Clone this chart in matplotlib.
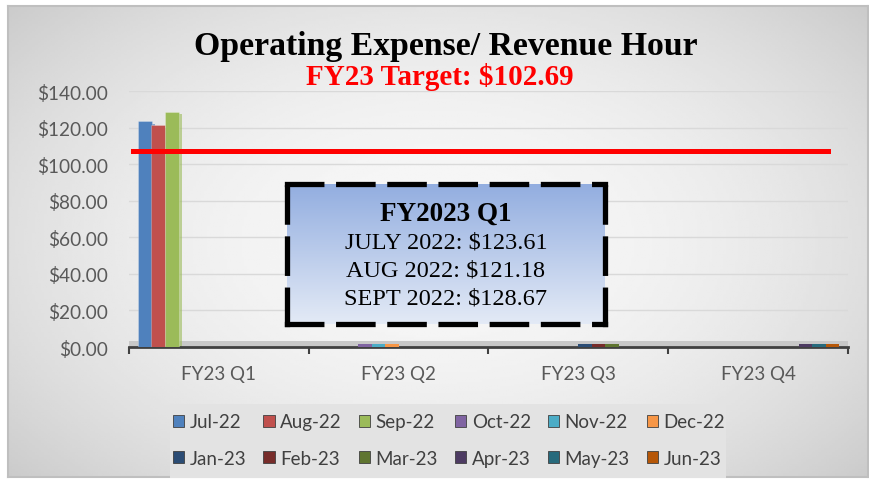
import numpy as np
import matplotlib
matplotlib.use('Agg')
from matplotlib import pyplot as plt
from matplotlib.patches import Rectangle, Patch
from matplotlib.colors import LinearSegmentedColormap

# data
quarters = ['FY23 Q1', 'FY23 Q2', 'FY23 Q3', 'FY23 Q4']
months = ['Jul-22', 'Aug-22', 'Sep-22', 'Oct-22', 'Nov-22', 'Dec-22',
          'Jan-23', 'Feb-23', 'Mar-23', 'Apr-23', 'May-23', 'Jun-23']
values = [123.61, 121.18, 128.67, 0, 0, 0, 0, 0, 0, 0, 0, 0]
month_quarter = [0, 0, 0, 1, 1, 1, 2, 2, 2, 3, 3, 3]
colors = ['#4F81BD', '#C0504D', '#9BBB59', '#8064A2', '#4BACC6', '#F79646',
          '#2C4D75', '#772C2A', '#5F7530', '#4D3B62', '#276A7C', '#B65708']
target_line = 107
yticks = [0, 20, 40, 60, 80, 100, 120, 140]
box_lines = ['JULY 2022: $123.61', 'AUG 2022: $121.18', 'SEPT 2022: $128.67']

W, H = 869, 485
fig = plt.figure(figsize=(W / 100, H / 100), dpi=100)
fig.patch.set_facecolor('white')

# chart area background (radial grey gradient) with border
bg = fig.add_axes([8 / W, 7 / H, 860 / W, 471 / H])
yy, xx = np.mgrid[-1:1:200j, -1:1:300j]
r = np.sqrt((xx * 0.9) ** 2 + (yy * 0.8) ** 2)
bg.imshow(0.97 - 0.12 * np.clip(r, 0, 1.4) ** 2, cmap='gray', vmin=0, vmax=1,
          aspect='auto', extent=[0, 1, 0, 1])
bg.set_xticks([]), bg.set_yticks([])
for s in bg.spines.values():
    s.set_color('#BFBFBF')
    s.set_linewidth(1.5)

# legend background
fig.patches.append(Rectangle((170 / W, 6 / H), 556 / W, 74 / H, transform=fig.transFigure,
                             facecolor='#E3E3E3', edgecolor='none', zorder=1))

ax = fig.add_axes([129 / W, 1 - 348 / H, 719 / W, 256 / H])
ax.patch.set_alpha(0)

slot = 0.075
handles = []
for j, m in enumerate(months):
    x = month_quarter[j] + (j - 5.5) * slot
    v = values[j]
    if v > 0:
        ax.bar(x, v, width=slot * 1.05, color=colors[j], edgecolor='#ffffff55', linewidth=0.5, zorder=3)
        # darker side for a bit of depth
        ax.bar(x + slot * 0.5 + 0.01, v - 1.5, width=0.02, bottom=0, color=colors[j],
               zorder=2.5, alpha=0.6)
    else:
        ax.bar(x, 1.5, width=slot, color=colors[j], zorder=3)
    handles.append(Patch(facecolor=colors[j], edgecolor='#404040', linewidth=0.6, label=m))

# floor
ax.add_patch(Rectangle((0, 0), 1, 0.022, transform=ax.transAxes, facecolor='#C8C8C8',
                       edgecolor='none', zorder=1))

ax.axhline(target_line, xmin=0.006, xmax=0.972, color='#FF0000', linewidth=3.6, zorder=5)

ax.set_xlim(-0.5, 3.5)
ax.set_ylim(0, 140)
ax.set_yticks(yticks)
ax.set_yticklabels(['${:.2f}'.format(t) for t in yticks], fontsize=13.7,
                   family='Lato', color='#595959')
ax.set_xticks([-0.5, 0.5, 1.5, 2.5, 3.5])
ax.set_xticklabels([])
ax.set_xticks(range(4), minor=True)
ax.set_xticklabels(quarters, minor=True, fontsize=13.5, family='Lato', color='#595959')
ax.tick_params(axis='x', which='major', length=5, width=1.5, color='#404040')
ax.tick_params(axis='x', which='minor', length=0, pad=13)
ax.tick_params(axis='y', length=0, pad=15)
ax.grid(axis='y', color='#D9D9D9', linewidth=1, zorder=0)
for s in ['top', 'right', 'left']:
    ax.spines[s].set_visible(False)
ax.spines['bottom'].set_color('#404040')
ax.spines['bottom'].set_linewidth(2)

# titles
fig.text(446 / W, 1 - 46 / H, 'Operating Expense/ Revenue Hour', ha='center', va='center',
         fontsize=24.3, fontweight='bold', family='Liberation Serif')
fig.text(440 / W, 1 - 77 / H, 'FY23 Target: $102.69', ha='center', va='center',
         fontsize=21, fontweight='bold', family='Liberation Serif', color='#FF0000')

# annotation box with gradient fill and dashed border
box = fig.add_axes([287 / W, 1 - 325 / H, 318 / W, 140 / H])
grad = np.linspace(0, 1, 100).reshape(-1, 1)
cm = LinearSegmentedColormap.from_list('b', ['#E3EAF6', '#93AEE0'])
box.imshow(grad, cmap=cm, aspect='auto', extent=[0, 1, 0, 1], origin='lower')
box.set_xticks([]), box.set_yticks([])
for s in box.spines.values():
    s.set_linewidth(3.8)
    s.set_linestyle((0, (6.5, 3.2)))
    s.set_color('black')
box.text(0.5, 0.79, 'FY2023 Q1', ha='center', va='center', fontsize=19.5,
         fontweight='bold', family='Liberation Serif', transform=box.transAxes)
for k, line in enumerate(box_lines):
    box.text(0.5, 0.585 - k * 0.2, line, ha='center', va='center', fontsize=17.5,
             family='Liberation Serif', transform=box.transAxes)

# legend fills column by column, so reorder for row-wise layout
order = [0, 6, 1, 7, 2, 8, 3, 9, 4, 10, 5, 11]
fig.legend(handles=[handles[i] for i in order], loc='center',
           bbox_to_anchor=(449 / W, 1 - 441 / H), ncol=6,
           frameon=False, prop={'family': 'Lato', 'size': 13.5},
           handlelength=0.6, handleheight=0.6, handletextpad=0.3, columnspacing=0.9,
           labelspacing=1.05, labelcolor='#404040')

fig.savefig('out.png', dpi=100)
